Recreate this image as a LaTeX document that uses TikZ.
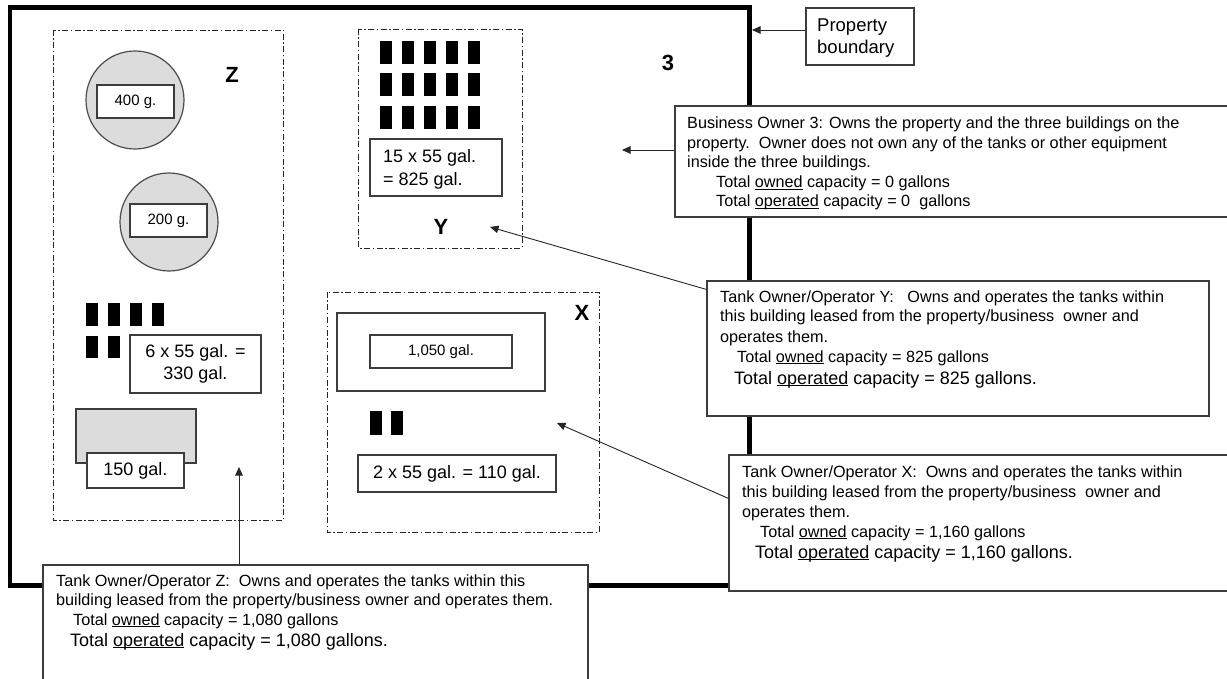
\documentclass[tikz,border=0pt]{standalone}
\usepackage{fontspec}
\setmainfont{Liberation Sans}
\usetikzlibrary{arrows.meta}
\definecolor{tankgray}{HTML}{DCDCDC}
\definecolor{edge}{HTML}{3C3C3C}
\newcommand\fsA{\fontsize{16.2}{19}\selectfont}
\newcommand\fsB{\fontsize{18}{22}\selectfont}
\newcommand\fsC{\fontsize{15}{18}\selectfont}
\newcommand\fsP{\fontsize{18.5}{22}\selectfont}
\newcommand\fsL{\fontsize{22}{26}\selectfont\bfseries}
\newlength\myulw
\newcommand\myul[1]{\settowidth\myulw{#1}\rlap{\rule[-2.3pt]{\myulw}{0.9pt}}#1}
\begin{document}
\begin{tikzpicture}[x=1pt,y=-1pt,
  bldg/.style={draw=black!85, line width=0.9pt, dash pattern=on 6pt off 2.5pt on 1.5pt off 2.5pt},
  tank/.style={draw=black!70, line width=1.2pt, fill=tankgray},
  lbox/.style={draw=edge, line width=1.1pt, fill=white, inner sep=0pt, font=\fsC},
  cbox/.style={draw=edge, line width=1.1pt, fill=white, inner sep=0pt, font=\fsB, align=center},
  note/.style={draw=edge, line width=1.1pt, fill=white, inner sep=0pt},
  ln/.style={anchor=base west, inner sep=0pt, font=\fsA},
  lnB/.style={anchor=base west, inner sep=0pt, font=\fsB},
  lnP/.style={anchor=base west, inner sep=0pt, font=\fsP},
  lab/.style={font=\fsL, inner sep=0pt},
  arr/.style={draw=black!85, line width=0.9pt, -{Triangle[length=8.5pt,width=7.5pt]}}]
\useasboundingbox (0,0) rectangle (1227,679);
\clip (0,0) rectangle (1227,679);
\fill[white] (0,0) rectangle (1227,679);
% property boundary
\draw[line width=4.8pt] (10,7.5) rectangle (749.5,585.5);
% buildings
\draw[bldg] (53,30) rectangle (283,520);
\draw[bldg] (358,29) rectangle (522,248);
\draw[bldg] (327,292) rectangle (599,532);
% labels
\node[lab] (lZ) at (232,75) {Z};
\node[lab] (l3) at (668,63) {3};
\node[lab] (lY) at (441,227) {Y};
\node[lab] (lX) at (582,313) {X};
% building Z
\draw[tank] (135,100) circle[radius=49];
\node[lbox, minimum width=77, minimum height=33] (t400) at (135.5,101.5) {400 g.};
\draw[tank] (169,222) circle[radius=49];
\node[lbox, minimum width=77, minimum height=33] (t200) at (168.5,220.5) {200 g.};
\foreach \x in {86,108,130,152} \fill (\x,303) rectangle ++(12,22.5);
\foreach \x in {86,108} \fill (\x,335.5) rectangle ++(12,22.5);
\node[cbox, minimum width=131, minimum height=58] (t330) at (195.5,364) {6 x 55 gal. =\\330 gal.};
\draw[tank, draw=edge] (76,409) rectangle (196,463);
\node[cbox, minimum width=97, minimum height=35] (t150) at (135.5,470.5) {150 gal.};
% building Y
\foreach \y in {41,73,106} \foreach \x in {380,402,424,446,468} \fill (\x,\y) rectangle ++(12,23);
\node[note, minimum width=132, minimum height=57] (t825) at (436,167.5) {};
\node[lnB] (t825a) at (383,163) {15 x 55 gal.};
\node[lnB] (t825b) at (383,186) {= 825 gal.};
% building X
\draw[draw=edge, line width=1.1pt] (337,313) rectangle (545,391);
\node[lbox, minimum width=142, minimum height=33] (t1050) at (441,351.5) {1,050 gal.};
\foreach \x in {370,391} \fill (\x,411) rectangle ++(12,24);
\node[cbox, minimum width=198, minimum height=37] (t110) at (457,473.5) {2 x 55 gal. = 110 gal.};
% note boxes
\node[note, minimum width=108, minimum height=57] (nP) at (860,36.5) {};
\node[lnP] (nPa) at (817,31.5) {Property};
\node[lnP] (nPb) at (817,53.5) {boundary};

\node[note, minimum width=560, minimum height=111] (nB) at (955,161.5) {};
\node[ln] (nB1) at (687,129) {Business Owner 3: Owns the property and the three buildings on the};
\node[ln] (nB2) at (687,148.5) {property.\ \ Owner does not own any of the tanks or other equipment};
\node[ln] (nB3) at (687,168) {inside the three buildings.};
\node[ln] (nB4) at (716,187.5) {Total \myul{owned} capacity = 0 gallons};
\node[ln] (nB5) at (716,206.5) {Total \myul{operated} capacity = 0\ \ gallons};

\node[note, minimum width=502, minimum height=135] (nY) at (958,348.5) {};
\node[ln] (nY1) at (720,302) {Tank Owner/Operator Y:\ \ \ Owns and operates the tanks within};
\node[ln] (nY2) at (720,322) {this building leased from the property/business\ \ owner and};
\node[ln] (nY3) at (720,342) {operates them.};
\node[ln] (nY4) at (737,362) {Total \myul{owned} capacity = 825 gallons};
\node[lnB] (nY5) at (734,384) {Total \myul{operated} capacity = 825 gallons.};

\node[note, minimum width=506, minimum height=136] (nX) at (982,523) {};
\node[ln] (nX1) at (742,477) {Tank Owner/Operator X:\ \ Owns and operates the tanks within};
\node[ln] (nX2) at (742,497) {this building leased from the property/business\ \ owner and};
\node[ln] (nX3) at (742,517) {operates them.};
\node[ln] (nX4) at (760,537) {Total \myul{owned} capacity = 1,160 gallons};
\node[lnB] (nX5) at (755,558) {Total \myul{operated} capacity = 1,160 gallons.};

\node[note, minimum width=545, minimum height=130] (nZ) at (315.5,630) {};
\node[ln] (nZ1) at (56,586) {Tank Owner/Operator Z:\ \ Owns and operates the tanks within this};
\node[ln] (nZ2) at (56,605.5) {building leased from the property/business owner and operates them.};
\node[ln] (nZ3) at (73,625) {Total \myul{owned} capacity = 1,080 gallons};
\node[lnB] (nZ4) at (70,646) {Total \myul{operated} capacity = 1,080 gallons.};
% arrows
\coordinate (aB) at (622,150);
\draw[arr] (nB.west |- aB) -- (aB);
\coordinate (aP) at (752,30);
\draw[arr] (nP.west |- aP) -- (aP);
\coordinate (aY) at (490,227);
\draw[arr] ([yshift=-9pt]nY.north west) -- (aY);
\coordinate (aX) at (557,423);
\draw[arr] ([yshift=-44pt]nX.north west) -- (aX);
\coordinate (aZ) at (239,467);
\draw[arr] (nZ.north -| aZ) -- (aZ);
\end{tikzpicture}
\end{document}
